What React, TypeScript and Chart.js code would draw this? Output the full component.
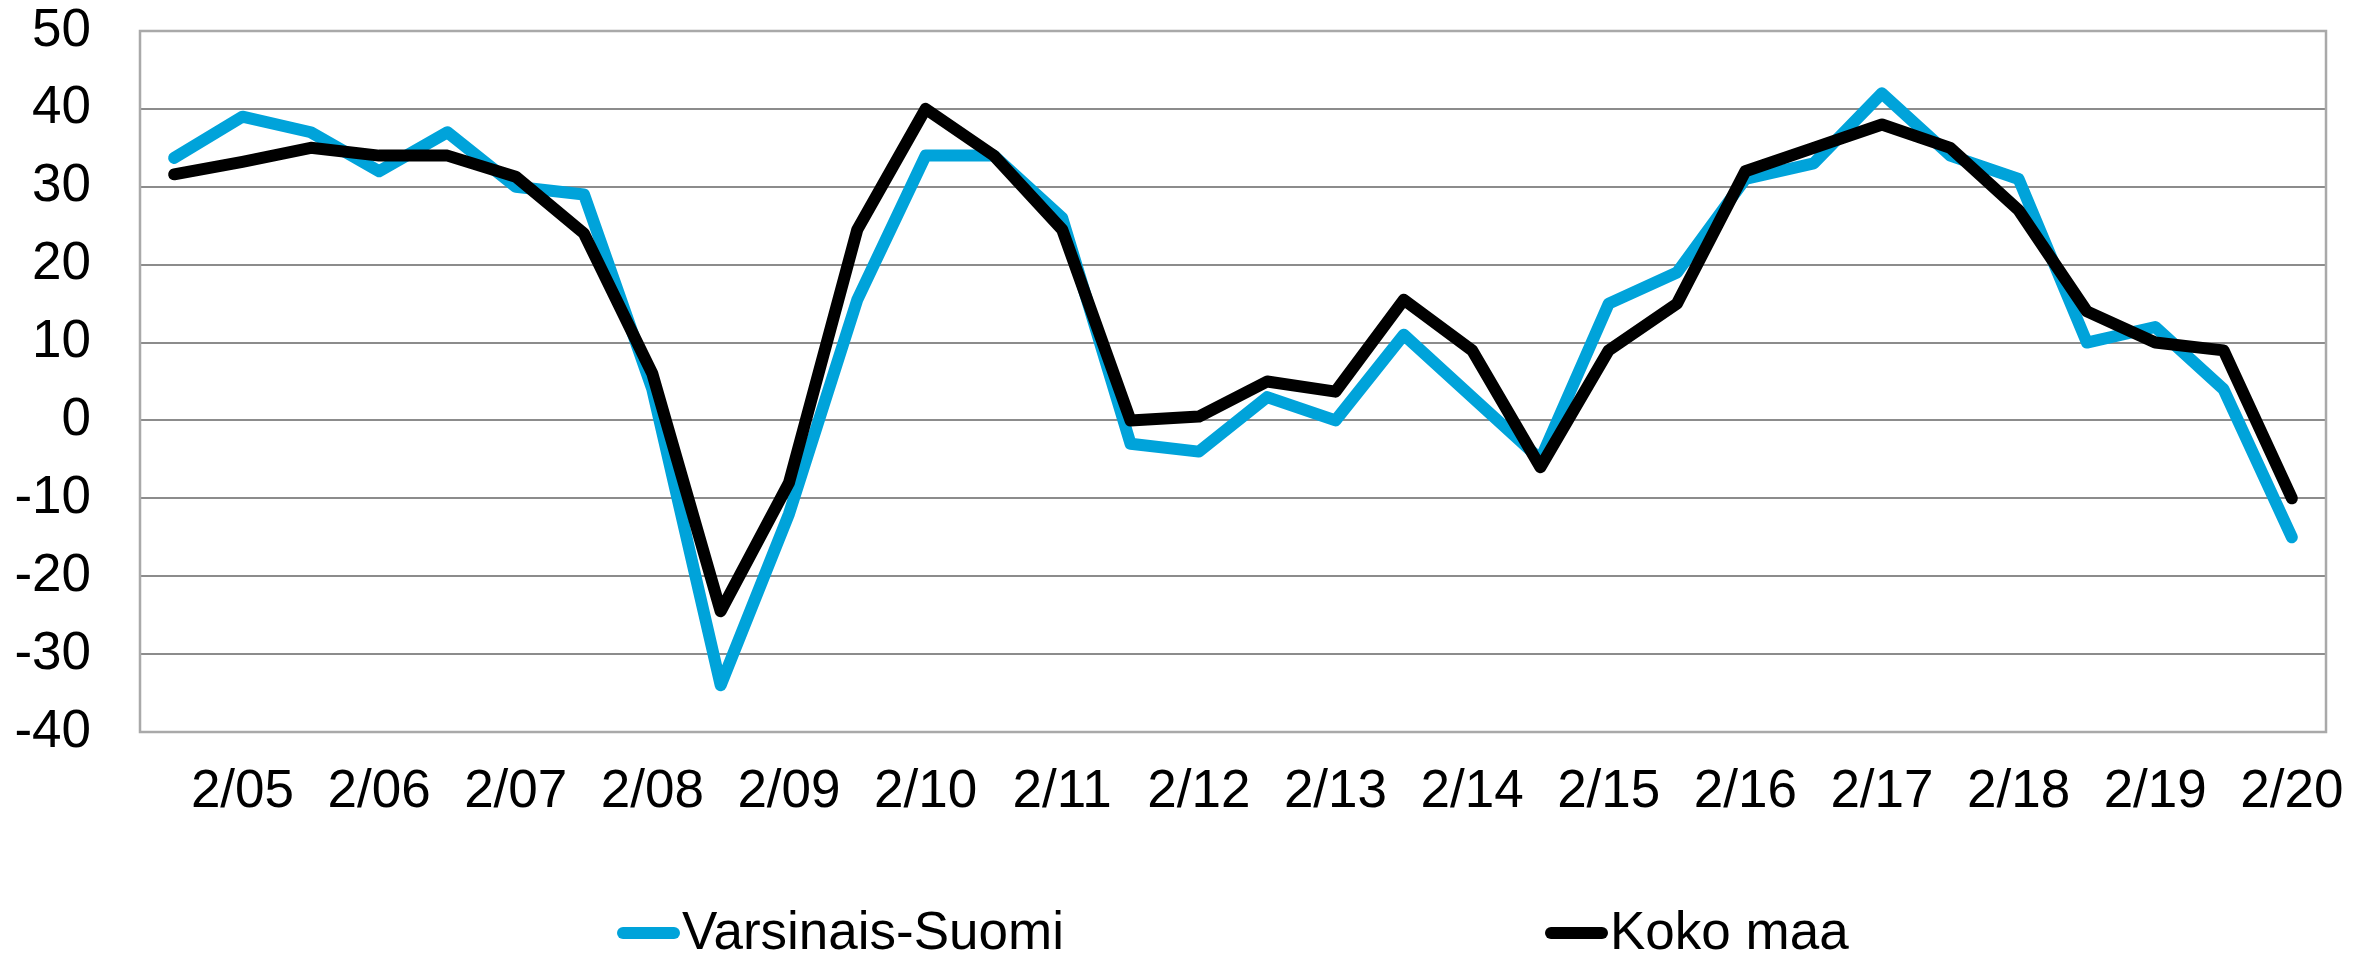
import { useEffect, useRef } from "react";
import { Chart, registerables } from "chart.js";

Chart.register(...registerables);

const periods = [
  "8/04", "2/05", "8/05", "2/06", "8/06", "2/07", "8/07", "2/08",
  "8/08", "2/09", "8/09", "2/10", "8/10", "2/11", "8/11", "2/12",
  "8/12", "2/13", "8/13", "2/14", "8/14", "2/15", "8/15", "2/16",
  "8/16", "2/17", "8/17", "2/18", "8/18", "2/19", "8/19", "2/20",
];

const varsinaisSuomi = [
  33.7, 39, 37, 32, 37, 30, 29, 4,
  -34, -12, 15.5, 34, 34, 26, -3, -4,
  3, 0, 11, 3, -5, 15, 19, 31,
  33, 42, 34, 31, 10, 12, 4, -15,
];

const kokoMaa = [
  31.6, 33.2, 35, 34, 34, 31.3, 24, 6,
  -24.5, -8, 24.5, 40, 34, 24.5, 0, 0.5,
  5, 3.7, 15.5, 9, -6, 9, 15, 32,
  35, 38, 35, 27, 14, 10, 9, -10,
];

const seriesNames = ["Varsinais-Suomi", "Koko maa"];
const seriesColors = ["#00a3da", "#000000"];
const yMin = -40;
const yMax = 50;
const yStep = 10;

const FONT = '"Liberation Sans", Arial, sans-serif';
const FONT_SIZE = 53;

const framePlugin = {
  id: "frame",
  beforeDatasetsDraw(chart: any) {
    const { ctx, chartArea } = chart;
    ctx.save();
    ctx.strokeStyle = "#a9a9a9";
    ctx.lineWidth = 2.5;
    ctx.strokeRect(
      chartArea.left,
      chartArea.top,
      chartArea.right - chartArea.left,
      chartArea.bottom - chartArea.top
    );
    ctx.restore();
  },
};

const legendPlugin = {
  id: "bottomLegend",
  afterDraw(chart: any) {
    const { ctx, chartArea } = chart;
    const cx = (chartArea.left + chartArea.right) / 2;
    const starts = [cx - 616, cx + 312];
    ctx.save();
    ctx.font = `${FONT_SIZE}px ${FONT}`;
    ctx.textAlign = "left";
    ctx.textBaseline = "alphabetic";
    chart.data.datasets.forEach((ds: any, i: number) => {
      const x = starts[i];
      const yLine = chartArea.bottom + 201;
      ctx.strokeStyle = ds.borderColor;
      ctx.lineWidth = 12;
      ctx.lineCap = "round";
      ctx.beginPath();
      ctx.moveTo(x + 6, yLine);
      ctx.lineTo(x + 57, yLine);
      ctx.stroke();
      ctx.fillStyle = "#000";
      ctx.fillText(ds.label, x + 65, chartArea.bottom + 217);
    });
    ctx.restore();
  },
};

export default function App() {
  const canvasRef = useRef<HTMLCanvasElement | null>(null);

  useEffect(() => {
    if (!canvasRef.current) return;
    Chart.defaults.font.family = FONT;
    const chart = new Chart(canvasRef.current, {
      type: "line",
      data: {
        labels: periods,
        datasets: [
          {
            label: seriesNames[0],
            data: varsinaisSuomi,
            borderColor: seriesColors[0],
            backgroundColor: seriesColors[0],
            borderWidth: 12,
            pointRadius: 0,
            tension: 0,
            borderCapStyle: "round",
            borderJoinStyle: "round",
            order: 2,
          },
          {
            label: seriesNames[1],
            data: kokoMaa,
            borderColor: seriesColors[1],
            backgroundColor: seriesColors[1],
            borderWidth: 12,
            pointRadius: 0,
            tension: 0,
            borderCapStyle: "round",
            borderJoinStyle: "round",
            order: 1,
          },
        ],
      },
      options: {
        animation: false,
        responsive: true,
        maintainAspectRatio: false,
        layout: { padding: { left: 8, right: 46, top: 31, bottom: 122 } },
        plugins: {
          legend: { display: false },
          tooltip: { enabled: false },
        },
        scales: {
          x: {
            offset: true,
            grid: { display: false, drawTicks: false },
            border: { display: false },
            ticks: {
              autoSkip: false,
              maxRotation: 0,
              minRotation: 0,
              padding: 29,
              color: "#000",
              font: { size: FONT_SIZE, family: FONT },
              callback: (_v: any, i: number) =>
                periods[i].startsWith("2/") ? periods[i] : "",
            },
            afterFit: (axis: any) => {
              axis.height = 100;
              axis.paddingLeft = 0;
              axis.paddingRight = 0;
            },
          },
          y: {
            min: yMin,
            max: yMax,
            grid: {
              color: "#8c8c8c",
              lineWidth: 2,
              drawTicks: false,
            },
            border: { display: false },
            ticks: {
              stepSize: yStep,
              padding: 49,
              color: "#000",
              font: { size: FONT_SIZE, family: FONT },
            },
            afterFit: (axis: any) => {
              axis.width = 132;
              axis.paddingTop = 0;
              axis.paddingBottom = 0;
            },
          },
        },
      },
      plugins: [framePlugin, legendPlugin],
    });
    return () => chart.destroy();
  }, []);

  return (
    <div
      style={{
        position: "fixed",
        left: 0,
        top: 0,
        width: "2372px",
        height: "954px",
        background: "#fff",
      }}
    >
      <canvas ref={canvasRef} />
    </div>
  );
}
